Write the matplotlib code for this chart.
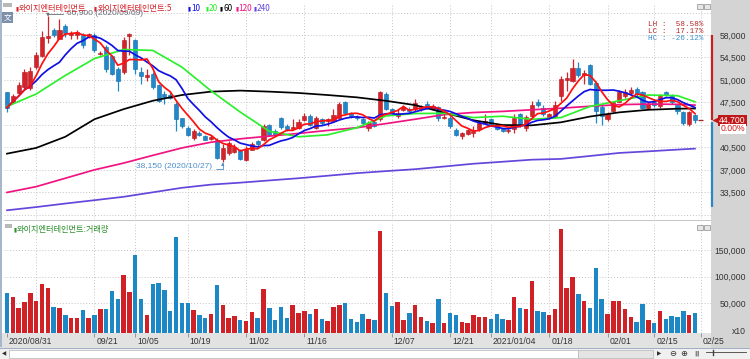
import numpy as np
import pandas as pd
import matplotlib
matplotlib.use("Agg")
import matplotlib.pyplot as plt
from matplotlib import font_manager, transforms
from matplotlib.patches import Rectangle

# ---------------- data ----------------
opens = [49050, 47600, 48950, 49900, 49700, 53000, 54700, 57600, 58800, 57450,
         59450, 58000, 58000, 58000, 57750, 58000, 55100, 56150, 54750, 52750,
         52200, 57900, 57200, 52200, 51500, 51950, 50250, 48800, 48700, 47250,
         45000, 43550, 42000, 42750, 42250, 41800, 41700, 38700, 39600, 39750,
         40050, 38550, 40150, 41450, 41600, 43950, 43050, 45000, 43800, 43400,
         43550, 44750, 45400, 43550, 44850, 44600, 44600, 45150, 47600, 45800,
         45300, 44850, 43550, 44450, 44850, 48800, 46450, 45400, 46350, 46550,
         46550, 46450, 47250, 46550, 46850, 45100, 45150, 43150, 42250, 42650,
         42800, 43300, 44250, 44850, 43950, 43400, 43000, 43300, 45650, 43550,
         45400, 47600, 46700, 45150, 45400, 48450, 51050, 50900, 52850, 51800,
         53300, 50550, 46850, 44850, 46200, 47600, 48450, 48950, 49600, 49050,
         46700, 47600, 46950, 49200, 48450, 47100, 45950, 44100, 45500]
highs = [49200, 48800, 50650, 52750, 53000, 55400, 58650, 60900, 59150, 60500,
         59700, 58650, 58800, 58250, 58250, 58250, 55500, 56400, 54950, 53000,
         57750, 58250, 57450, 53000, 52750, 52200, 50400, 49350, 49050, 47500,
         45150, 43800, 43300, 43050, 42500, 42400, 42000, 40950, 41450, 40950,
         40250, 40700, 41300, 41700, 44100, 44100, 43300, 45300, 44100, 44850,
         44850, 45800, 45650, 45400, 45150, 45150, 46450, 47500, 47750, 46050,
         45500, 45150, 44600, 44600, 49350, 49050, 46700, 46450, 47100, 46850,
         48000, 47100, 47750, 47250, 46950, 45650, 45400, 43550, 42900, 43400,
         43800, 44600, 45650, 45150, 44100, 43550, 43400, 45650, 45900, 45500,
         47750, 48000, 47100, 45900, 47750, 51600, 52200, 54300, 53800, 52500,
         53550, 50900, 47250, 46050, 47750, 49500, 49600, 49850, 49850, 49350,
         47500, 48050, 48800, 49350, 48800, 47250, 46200, 46200, 45700]
lows = [46050, 47500, 48800, 49600, 49500, 52750, 54600, 56700, 57750, 57350,
        57750, 57350, 57450, 55900, 57500, 55350, 54900, 52200, 51700, 49350,
        51950, 54850, 51950, 50400, 50900, 49600, 47500, 47250, 48000, 43050,
        43550, 42250, 41700, 42250, 41600, 41600, 38700, 38150, 39350, 39600,
        38550, 38300, 40050, 40700, 41450, 42250, 42350, 43400, 43050, 43300,
        43300, 44600, 43800, 43300, 43950, 43800, 44450, 45000, 45650, 45150,
        44800, 43800, 43050, 43700, 44600, 46350, 45650, 45150, 46200, 45900,
        46200, 46200, 46450, 46350, 44600, 44850, 43550, 42250, 41850, 42500,
        42150, 43050, 44100, 43800, 43150, 42900, 42800, 42750, 43700, 43050,
        45150, 46850, 45400, 44850, 45150, 47750, 49350, 50650, 51450, 50400,
        50250, 44350, 43950, 44600, 46050, 47500, 48150, 48650, 48550, 46550,
        46550, 46850, 46700, 48450, 47250, 45700, 43950, 43900, 44300]
closes = [46700, 48550, 50250, 52300, 52450, 54850, 57750, 57900, 58000, 58800,
          58250, 58250, 58400, 56400, 58100, 55650, 55250, 52750, 51950, 50900,
          57200, 58100, 52750, 51600, 51700, 49850, 47750, 48300, 48200, 44850,
          43800, 42500, 43050, 42500, 41700, 42150, 38850, 40400, 41200, 40550,
          38700, 40250, 40950, 40950, 43800, 42500, 42500, 43700, 43300, 43700,
          44450, 45400, 43950, 45000, 44250, 44850, 45500, 47250, 45900, 45400,
          45000, 44350, 44350, 43800, 49200, 46550, 45800, 45900, 46850, 46200,
          47400, 46850, 46700, 46950, 45000, 45250, 43800, 42350, 42800, 43200,
          43050, 44250, 44600, 44100, 43300, 43000, 43150, 45150, 44100, 45300,
          47100, 47100, 45650, 45650, 47100, 51200, 51300, 52850, 51800, 52050,
          50400, 46200, 45400, 45650, 47500, 49200, 49050, 49500, 48800, 46700,
          47250, 47100, 48550, 48650, 47600, 46200, 44250, 46000, 44700]
volumes = [70000, 62500, 41900, 52500, 68750, 54400, 85600, 78100, 42500, 41250,
           27500, 21900, 23100, 37500, 23100, 27500, 40000, 38750, 73100, 58100,
           103100, 71250, 140000, 58750, 27500, 85600, 87500, 74400, 35600, 174400,
           50000, 51250, 37500, 27500, 23100, 30600, 84400, 46250, 23100, 26250,
           18100, 16900, 33100, 21900, 76900, 41250, 18100, 43750, 23100, 47500,
           32500, 35000, 29400, 40000, 20600, 16900, 42500, 47500, 50000, 20600,
           15600, 29400, 20600, 18100, 185600, 69400, 45600, 52500, 18100, 32500,
           46250, 25000, 16900, 13100, 58100, 13100, 32500, 28750, 15600, 13100,
           28750, 23750, 25000, 21250, 30000, 20600, 19400, 62500, 41900, 40000,
           91900, 36250, 33750, 27500, 40000, 189400, 78100, 98750, 67500, 54400,
           41900, 116900, 58750, 30000, 54400, 54400, 38750, 25000, 15600, 48750,
           18750, 13750, 36250, 20000, 26250, 23750, 36250, 27500, 32500]

ma_idx = [0, 5, 10, 15, 20, 25, 30, 35, 40, 45, 50, 55, 60, 65, 70, 75, 80, 85,
          90, 95, 100, 105, 110, 115, 118]
ma20_pts = [46870, 48810, 51700, 54325, 55740, 55600, 53000, 49300, 46000, 43000,
            42150, 42450, 43560, 45400, 45770, 45800, 45140, 45350, 44870, 45140,
            46870, 47760, 48650, 48550, 47600]
ma60_pts = [39520, 40410, 42150, 44880, 46450, 47760, 48650, 49180, 49340, 49180,
            48970, 48650, 48290, 47750, 47080, 45900, 44720, 43980, 43930, 44400,
            45300, 45950, 46350, 46520, 46550]
ma120_pts = [33480, 34380, 35690, 37000, 38050, 39250, 40410, 41300, 41830, 42250,
             42670, 43140, 43560, 44200, 44880, 45600, 45930, 46100, 46350, 46600,
             46900, 47150, 47240, 47200, 47080]
ma240_pts = [30700, 31200, 31750, 32270, 32800, 33500, 34200, 34700, 35000, 35350,
             35690, 36080, 36480, 36800, 37100, 37520, 37950, 38260, 38580, 38700,
             39160, 39630, 39880, 40150, 40300]

tick_idx = [0, 15, 22, 31, 41, 51, 66, 76, 83, 93, 103, 111, 119]
tick_labels = ['2020/08/31', '09/21', '10/05', '10/19', '11/02', '11/16', '12/07',
               '12/21', '2021/01/04', '01/18', '02/01', '02/15', '02/25']
grid_idx = [5, 15, 22, 31, 41, 51, 66, 76, 83, 93, 103, 111, 119]
price_ticks = [33500, 37000, 40500, 47500, 51000, 54500, 58000]
price_grid = [30000, 33500, 37000, 40500, 44000, 47500, 51000, 54500, 58000, 61500]
vol_ticks = [0, 50000, 100000, 150000]
vol_tick_labels = ['x10', '50,000', '100,000', '150,000']

name = '와이지엔터테인먼트'
last_price = 44700
high_pt = (7, 60900, '60,900 (2020/09/09)')
low_pt = (37, 38150, '38,150 (2020/10/27)')
stats = [('LH :  58.58%', '#b8282a'), ('LC :  17.17%', '#b8282a'), ('HC : -26.12%', '#3a8fd0')]

# ---------------- fonts ----------------
def pick(*names):
    for n in names:
        try:
            font_manager.findfont(font_manager.FontProperties(family=n), fallback_to_default=False)
            return n
        except Exception:
            pass
    return 'DejaVu Sans'

NUM = pick('Liberation Sans Narrow', 'Liberation Sans')
MONO = pick('Liberation Mono', 'DejaVu Sans Mono')
KR = [pick('Noto Sans CJK KR'), 'DejaVu Sans']

RED = '#d4232a'
RED_E = '#b01a1e'
BLUE = '#1f8acb'
BLUE_E = '#1768a6'
C5, C10, C20, C60, C120, C240 = '#ff1010', '#1010e6', '#2cf02c', '#000000', '#f01482', '#6446dc'

# ---------------- figure ----------------
W, H = 750, 359
fig = plt.figure(figsize=(W / 100, H / 100), dpi=100)
fig.patch.set_facecolor('white')
pxT = transforms.Affine2D().scale(1.0 / W, -1.0 / H).translate(0, 1) + fig.transFigure


def prect(x0, y0, x1, y1, fc, ec='none', lw=0.0, z=-5):
    r = Rectangle((x0, y0), x1 - x0, y1 - y0, transform=pxT, facecolor=fc,
                  edgecolor=ec, linewidth=lw, zorder=z)
    fig.add_artist(r)
    return r


def ptext(x, y, s, z=10, **kw):
    return fig.text(x, y, s, transform=pxT, zorder=z, **kw)


# chrome backgrounds
prect(711, 0, 750, 348, '#d4d4d4')
prect(0, 333, 711, 348, '#e2e2e2')
prect(0, 348, 750, 359, '#f0f0f0')
prect(0, 347.5, 750, 348.5, '#9fb0c4', z=-4)
prect(0, 0, 2, 347, '#a7b7cb', z=-4)

PL, PR = 4, 711
ax_p = fig.add_axes([PL / W, 1 - 219 / H, (PR - PL) / W, (219 - 3) / H])
ax_v = fig.add_axes([PL / W, 1 - 333 / H, (PR - PL) / W, (333 - 222) / H], sharex=ax_p)
for a in (ax_p, ax_v):
    a.set_facecolor('white')
    for s in a.spines.values():
        s.set_visible(False)

n = len(closes)
x = np.arange(n)
o = np.array(opens, float)
h = np.array(highs, float)
l = np.array(lows, float)
c = np.array(closes, float)
v = np.array(volumes, float)
up = c >= o

xlo, xhi = -0.515, 120.75
ax_p.set_xlim(xlo, xhi)
ax_p.set_ylim(29342, 62984)
ax_v.set_ylim(-5625, 202500)

# grids
for gp in price_grid:
    ax_p.axhline(gp, color='#c4c4c4', lw=0.7, ls=(0, (1, 2)), zorder=0)
for gv in vol_ticks[1:]:
    ax_v.axhline(gv, color='#c4c4c4', lw=0.7, ls=(0, (1, 2)), zorder=0)
for gi in grid_idx:
    ax_p.axvline(gi, color='#c4c4c4', lw=0.7, ls=(0, (1, 2)), zorder=0)
    ax_v.axvline(gi, color='#c4c4c4', lw=0.7, ls=(0, (1, 2)), zorder=0)

# candles
fill = np.where(up, RED, BLUE)
edge = np.where(up, RED_E, BLUE_E)
ax_p.vlines(x, l, h, colors=fill, lw=0.9, zorder=3)
body_b = np.minimum(o, c)
body_h = np.maximum(np.abs(c - o), 90)
ax_p.bar(x, body_h, bottom=body_b, width=0.7, color=fill, edgecolor=edge, lw=0.4, zorder=4)

# moving averages
cs = pd.Series(c)
ma5 = cs.rolling(5, min_periods=1).mean()
ma10 = cs.rolling(10, min_periods=1).mean()
ax_p.plot(ma_idx, ma240_pts, color=C240, lw=1.25, zorder=5)
ax_p.plot(ma_idx, ma120_pts, color=C120, lw=1.25, zorder=5)
ax_p.plot(ma_idx, ma60_pts, color=C60, lw=1.25, zorder=5)
ax_p.plot(ma_idx, ma20_pts, color=C20, lw=1.25, zorder=6)
ax_p.plot(x, ma10, color=C10, lw=1.25, zorder=7)
ax_p.plot(x, ma5, color=C5, lw=1.25, zorder=8)

# current price dash
ax_p.hlines(last_price, n - 0.4, n + 0.4, color='#b02020', lw=0.9, zorder=8)

# high / low annotations
ax_p.annotate(high_pt[2], xy=(high_pt[0], high_pt[1]), xytext=(19, 2.5), textcoords='offset pixels',
              ha='left', va='center', fontsize=6, family=NUM, color='#6b6b78', zorder=9,
              arrowprops=dict(arrowstyle='-|>', color='#6b6b78', lw=0.6, mutation_scale=4,
                              shrinkA=1, shrinkB=0, relpos=(0, 0.5),
                              connectionstyle='angle,angleA=0,angleB=90'))
ax_p.annotate(low_pt[2], xy=(low_pt[0], low_pt[1]), xytext=(-10.5, -4.5), textcoords='offset pixels',
              ha='right', va='center', fontsize=6, family=NUM, color='#4d8fcc', zorder=9,
              arrowprops=dict(arrowstyle='-|>', color='#4d8fcc', lw=0.6, mutation_scale=4,
                              shrinkA=1, shrinkB=0, relpos=(1, 0.25),
                              connectionstyle='angle,angleA=0,angleB=90'))

# volume bars
vbase = ax_v.get_ylim()[0]
vfill = np.where(up, '#d02226', '#1d88c6')
ax_v.bar(x, v - vbase, bottom=vbase, width=0.76, color=vfill, lw=0, zorder=3)

# axes ticks
ax_p.tick_params(axis='x', bottom=False, labelbottom=False)
ax_p.yaxis.tick_right()
ax_p.set_yticks(price_ticks)
ax_p.set_yticklabels([f'{t:,}' for t in price_ticks])
ax_p.tick_params(axis='y', length=0, pad=25.2, labelsize=6.2, labelcolor='#333333')
for t in ax_p.get_yticklabels():
    t.set_ha('right')
    t.set_family(NUM)

ax_v.yaxis.tick_right()
ax_v.set_yticks(vol_ticks)
ax_v.set_yticklabels(vol_tick_labels)
ax_v.tick_params(axis='y', length=0, pad=25.2, labelsize=6.2, labelcolor='#333333')
for t in ax_v.get_yticklabels():
    t.set_ha('right')
    t.set_family(NUM)

ax_v.set_xticks(tick_idx)
ax_v.tick_params(axis='x', length=3, width=0.6, color='#8a8a8a', direction='out',
                 labelbottom=False)
for ti, tl in zip(tick_idx, tick_labels):
    ax_v.annotate(tl, xy=(ti, 0), xycoords=('data', 'axes fraction'), xytext=(2, -3.5),
                  textcoords='offset pixels', ha='left', va='top', fontsize=6.2,
                  family=NUM, color='#333333', annotation_clip=False)

# panel separator & icons
prect(4, 219.8, 711, 221.4, '#c6c6c6', z=5)
prect(3, 3, 12, 7, '#b8b8b8', z=6)
prect(5, 224, 12, 227.5, '#b8b8b8', z=6)
prect(2, 12, 13, 23, '#7d90aa', z=6)
ptext(7.5, 17.5, '文', family=KR, fontsize=5.5, color='white', ha='center', va='center', z=7)
for yy in (4, 224.5):
    prect(697, yy, 703, yy + 5, '#e6e6e6', ec='#8c8c8c', lw=0.5, z=6)
    prect(704, yy, 710, yy + 5, '#e6e6e6', ec='#8c8c8c', lw=0.5, z=6)

# legend (price panel)
legend = [(15, RED, name), (94, RED, name + ':5'), (188, C10, '10'), (205, C20, '20'),
          (220, C60, '60'), (235, C120, '120'), (253, C240, '240')]
for lx, lc, ls in legend:
    ptext(lx, 8.5, '▮', family='DejaVu Sans', fontsize=4, color=lc, ha='left', va='center')
    ptext(lx + 3.5, 8.5, ls, family=KR, fontsize=5.9, color=lc, ha='left', va='center')

# legend (volume panel)
ptext(13.5, 229.5, '▮', family='DejaVu Sans', fontsize=4, color='#2d8f2d', ha='left', va='center')
ptext(17, 229.5, name + ':거래량', family=KR, fontsize=5.9, color='#2d8f2d', ha='left', va='center')

# LH / LC / HC
for k, (s, col) in enumerate(stats):
    ptext(703, 24 + 7.2 * k, s, family=MONO, fontsize=5.5, color=col, ha='right', va='center')

# right side: range bar and current price marker
blend = transforms.blended_transform_factory(pxT, ax_p.transData)
ax_p.plot([711.8, 711.8], [58000, last_price], color='#c82020', lw=1.6, transform=blend,
          clip_on=False, zorder=9, solid_capstyle='butt')
ax_p.plot([711.8, 711.8], [last_price - 250, 31260], color='#2a86c4', lw=1.6, transform=blend,
          clip_on=False, zorder=9, solid_capstyle='butt')
ax_p.plot([715], [last_price], marker='<', ms=4.5, color='#c01818', transform=blend,
          clip_on=False, zorder=9, mec='none')
ax_p.annotate(f'{last_price:,}', xy=(745.5, last_price), xycoords=blend, ha='right', va='center',
              fontsize=6.2, family=NUM, color='white', annotation_clip=False, zorder=10,
              bbox=dict(boxstyle='square,pad=0.12', fc='#c01818', ec='none'))
ax_p.annotate('0.00%', xy=(745.5, last_price), xycoords=blend, xytext=(0, -8.5),
              textcoords='offset pixels', ha='right', va='center', fontsize=6.2, family=NUM,
              color='#d01818', annotation_clip=False, zorder=10,
              bbox=dict(boxstyle='square,pad=0.1', fc='white', ec='none'))

# scroll bar row
prect(9, 349.5, 578, 357.5, 'white', ec='#b6b6b6', lw=0.5, z=-3)
prect(578, 349.5, 653, 357.5, '#e4e4e4', ec='#b6b6b6', lw=0.5, z=-3)
ptext(4.5, 353.5, '◀', family='DejaVu Sans', fontsize=4, color='#303030', ha='center', va='center')
ptext(659, 353.5, '▶', family='DejaVu Sans', fontsize=4, color='#303030', ha='center', va='center')
ptext(673, 353.5, '⊖', family='DejaVu Sans', fontsize=6, color='#303030', ha='center', va='center')
ptext(684, 353.5, '⊕', family='DejaVu Sans', fontsize=6, color='#303030', ha='center', va='center')
ptext(697, 353.5, '‖‖', family='DejaVu Sans', fontsize=4, color='#505050', ha='center', va='center')
fig.add_artist(plt.Line2D([706, 746], [352, 352], transform=pxT, color='#404040', lw=0.6))
fig.add_artist(plt.Line2D([712.5, 712.5], [349.5, 355], transform=pxT, color='#404040', lw=1.0))

fig.savefig('out.png', dpi=100, facecolor=fig.get_facecolor())
